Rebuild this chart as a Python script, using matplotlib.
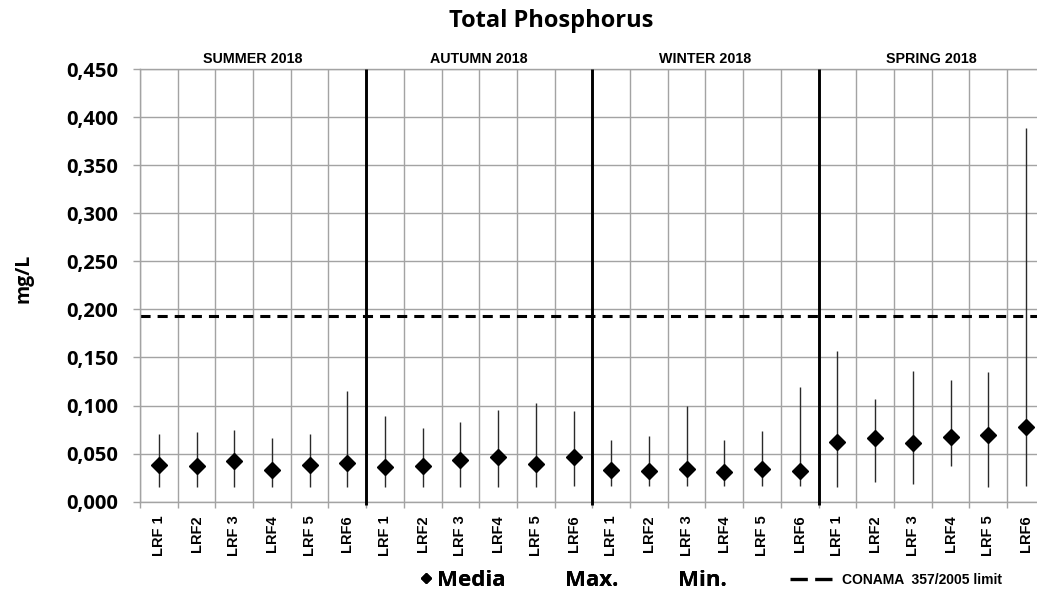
import matplotlib
matplotlib.use("Agg")
import matplotlib.pyplot as plt
from matplotlib.lines import Line2D
from matplotlib.ticker import FixedLocator, FuncFormatter

# sampling points, repeated for every season
sites = ["LRF 1", "LRF2", "LRF 3", "LRF4", "LRF 5", "LRF6"]
seasons = ["SUMMER 2018", "AUTUMN 2018", "WINTER 2018", "SPRING 2018"]

# total phosphorus (mg/L), summer -> spring, 6 sites each
media = [0.0385, 0.0367, 0.0427, 0.0332, 0.0377, 0.0400,
         0.0360, 0.0370, 0.0430, 0.0465, 0.0390, 0.0467,
         0.0326, 0.0320, 0.0344, 0.0310, 0.0344, 0.0320,
         0.0625, 0.0660, 0.0615, 0.0670, 0.0690, 0.0780]
maximo = [0.070, 0.073, 0.075, 0.066, 0.070, 0.115,
          0.089, 0.077, 0.083, 0.095, 0.103, 0.094,
          0.064, 0.068, 0.100, 0.064, 0.074, 0.119,
          0.157, 0.107, 0.136, 0.127, 0.135, 0.389]
minimo = [0.015, 0.015, 0.015, 0.015, 0.015, 0.015,
          0.015, 0.015, 0.015, 0.015, 0.015, 0.016,
          0.016, 0.016, 0.016, 0.016, 0.016, 0.016,
          0.015, 0.020, 0.018, 0.037, 0.015, 0.016]

conama_limit = 0.193
y_ticks = [0.0, 0.05, 0.10, 0.15, 0.20, 0.25, 0.30, 0.35, 0.40, 0.45]

grid_col = "#a3a3a3"
bold_font = ["Open Sans", "DejaVu Sans"]
arial = ["Liberation Sans", "DejaVu Sans"]

n = len(media)
x = list(range(n))
labels = sites * len(seasons)

fig = plt.figure(figsize=(10.37, 5.95), dpi=100)
ax = fig.add_axes([0.135, 0.1568, 0.8725, 0.7272])

ax.set_xlim(-0.5, n - 0.5)
ax.set_ylim(0, 0.45)

# min-max range and mean
ax.vlines(x, minimo, maximo, color="#2a2a2a", lw=1.0, zorder=3)
ax.plot(x, media, ls="none", marker="D", ms=8.3, color="black", zorder=4)

# CONAMA limit
ax.axhline(conama_limit, color="black", lw=2.2, dashes=(3.3, 2.3), zorder=2)

# season separators
ax.vlines([5.5, 11.5, 17.5], -0.003, 0.45, color="black", lw=2.1,
          zorder=3, clip_on=False)

# grid
ax.yaxis.set_major_locator(FixedLocator(y_ticks))
ax.yaxis.set_major_formatter(FuncFormatter(lambda v, p: f"{v:.3f}".replace(".", ",")))
ax.set_xticks(x)
ax.set_xticklabels(labels, rotation=90, fontsize=10.5, fontweight="bold",
                   family=arial)
ax.xaxis.set_minor_locator(FixedLocator([i - 0.5 for i in range(n + 1)]))
ax.grid(True, axis="y", which="major", color=grid_col, lw=1)
ax.grid(True, axis="x", which="minor", color=grid_col, lw=1)
ax.set_axisbelow(True)
ax.tick_params(axis="x", which="major", length=0, pad=9.5)
ax.tick_params(axis="x", which="minor", length=4.5, color=grid_col, width=1)
ax.tick_params(axis="y", length=5, color=grid_col, width=1, pad=11)
for t in ax.get_yticklabels():
    t.set_family(bold_font)
    t.set_fontweight("bold")
    t.set_fontsize(14.5)

for side in ["left", "bottom", "top"]:
    ax.spines[side].set_color(grid_col)
    ax.spines[side].set_linewidth(1)
ax.spines["right"].set_visible(False)

ax.set_ylabel("mg/L", fontsize=14, fontweight="bold", family=bold_font)
ax.yaxis.set_label_coords(-0.118, 0.517)

# season names above the plot
for i, s in enumerate(seasons):
    ax.text(i * 6 + 2.5, 1.024, s, transform=ax.get_xaxis_transform(),
            ha="center", va="center", fontsize=10.3, fontweight="bold",
            family=arial)

fig.text(0.532, 1 - 21 / 595, "Total Phosphorus", ha="center", va="center",
         fontsize=17, fontweight="bold", family=bold_font)

# legend
h_media = Line2D([], [], ls="none", marker="D", ms=5.5, color="black")
h_empty = Line2D([], [], ls="none")
leg1 = fig.legend([h_media, h_empty, h_empty], ["Media", "Max.", "Min."],
                  loc="center left", bbox_to_anchor=(421 / 1037, 1 - 580 / 595),
                  ncol=3, frameon=False, borderpad=0, borderaxespad=0,
                  handlelength=0.45, handletextpad=0.25, columnspacing=2.0,
                  prop={"family": bold_font, "weight": "bold", "size": 16})
h_conama = Line2D([], [], color="black", lw=2.4, dashes=(5.2, 2.2))
leg2 = fig.legend([h_conama], ["CONAMA  357/2005 limit"],
                  loc="center left", bbox_to_anchor=(790 / 1037, 1 - 580 / 595),
                  frameon=False, borderpad=0, borderaxespad=0,
                  handlelength=3.0, handletextpad=0.75,
                  prop={"family": arial, "weight": "bold", "size": 10})
fig.add_artist(leg1)

fig.savefig("out.png", dpi=100)
